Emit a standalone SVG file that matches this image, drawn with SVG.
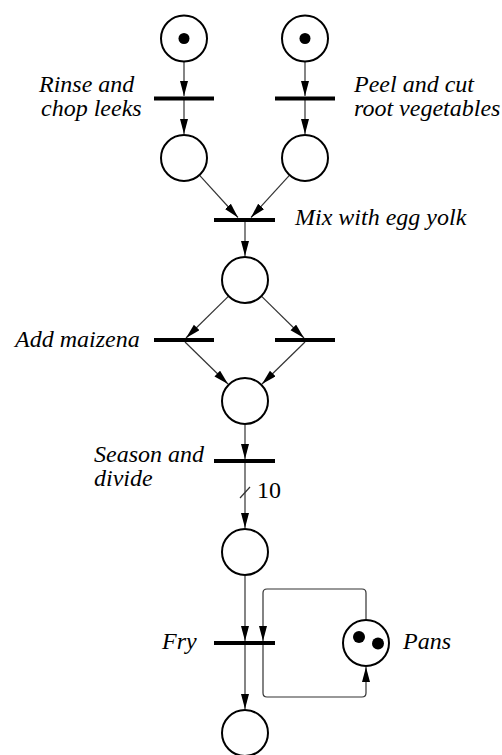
<svg xmlns="http://www.w3.org/2000/svg" width="502" height="755" viewBox="0 0 502 755">
  <style>
    .place { fill: #fff; stroke: #000; stroke-width: 2; }
    .token { fill: #000; }
    .bar { stroke: #000; stroke-width: 4; }
    .arc { fill: none; stroke: #333; stroke-width: 1.2; }
    .lbl { font-family: 'Liberation Serif', 'Times New Roman', serif; font-style: italic; font-size: 24px; fill: #000; }
    .num { font-family: 'Liberation Serif', 'Times New Roman', serif; font-size: 24px; fill: #000; }
  </style>
  <defs>
    <marker id="ah" markerUnits="userSpaceOnUse" markerWidth="16" markerHeight="9" refX="15" refY="4" orient="auto">
      <path d="M0,0 L15,4 L0,8 z" fill="#000"/>
    </marker>
  </defs>

  <g id="connectors">
    <line class="arc" x1="184" y1="62" x2="184" y2="96" marker-end="url(#ah)"/>
    <line class="arc" x1="305" y1="62" x2="305" y2="96" marker-end="url(#ah)"/>
    <line class="arc" x1="184" y1="100" x2="184" y2="134" marker-end="url(#ah)"/>
    <line class="arc" x1="305" y1="100" x2="305" y2="134" marker-end="url(#ah)"/>
    <line class="arc" x1="199.4" y1="175.1" x2="238" y2="217.5" marker-end="url(#ah)"/>
    <line class="arc" x1="289.6" y1="175.1" x2="251" y2="217.5" marker-end="url(#ah)"/>
    <line class="arc" x1="245" y1="222" x2="245" y2="256" marker-end="url(#ah)"/>
    <line class="arc" x1="228.6" y1="296.1" x2="186" y2="338" marker-end="url(#ah)"/>
    <line class="arc" x1="261.4" y1="296.1" x2="304" y2="338" marker-end="url(#ah)"/>
    <line class="arc" x1="185" y1="342" x2="228" y2="384" marker-end="url(#ah)"/>
    <line class="arc" x1="305" y1="342" x2="262" y2="384" marker-end="url(#ah)"/>
    <line class="arc" x1="245" y1="425" x2="245" y2="459" marker-end="url(#ah)"/>
    <line class="arc" x1="245" y1="463" x2="245" y2="528" marker-end="url(#ah)"/>
    <line class="arc" x1="240" y1="498" x2="250" y2="487"/>
    <line class="arc" x1="245" y1="576" x2="245" y2="641" marker-end="url(#ah)"/>
    <line class="arc" x1="245" y1="645" x2="245" y2="709" marker-end="url(#ah)"/>
    <path class="arc" d="M366,619 V593 Q366,589 362,589 H267 Q263,589 263,593 V641" marker-end="url(#ah)"/>
    <path class="arc" d="M263,645 V693 Q263,697 267,697 H362 Q366,697 366,693 V667" marker-end="url(#ah)"/>
    <text class="num" x="257" y="498">10</text>
  </g>

  <g id="p-start-leeks">
    <circle class="place" cx="184" cy="38.5" r="23"/>
    <circle class="token" cx="184" cy="38.5" r="5.5"/>
  </g>
  <g id="p-start-roots">
    <circle class="place" cx="305" cy="38.5" r="23"/>
    <circle class="token" cx="305" cy="38.5" r="5.5"/>
  </g>
  <g id="t-rinse">
    <line class="bar" x1="154" y1="98.5" x2="214" y2="98.5"/>
    <text class="lbl" x="39" y="92">Rinse and</text>
    <text class="lbl" x="41" y="116">chop leeks</text>
  </g>
  <g id="t-peel">
    <line class="bar" x1="275" y1="98.5" x2="335" y2="98.5"/>
    <text class="lbl" x="354" y="92">Peel and cut</text>
    <text class="lbl" x="354" y="116">root vegetables</text>
  </g>
  <g id="p-leeks">
    <circle class="place" cx="184" cy="158" r="23"/>
  </g>
  <g id="p-roots">
    <circle class="place" cx="305" cy="158" r="23"/>
  </g>
  <g id="t-mix">
    <line class="bar" x1="214" y1="220" x2="275" y2="220"/>
    <text class="lbl" x="295" y="225">Mix with egg yolk</text>
  </g>
  <g id="p-mixed">
    <circle class="place" cx="245" cy="280" r="23"/>
  </g>
  <g id="t-maizena-left">
    <line class="bar" x1="154" y1="340" x2="214" y2="340"/>
    <text class="lbl" x="15" y="347">Add maizena</text>
  </g>
  <g id="t-maizena-right">
    <line class="bar" x1="275" y1="340" x2="335" y2="340"/>
  </g>
  <g id="p-batter">
    <circle class="place" cx="245" cy="401" r="23"/>
  </g>
  <g id="t-season">
    <line class="bar" x1="214" y1="461" x2="275" y2="461"/>
    <text class="lbl" x="94" y="462">Season and</text>
    <text class="lbl" x="94" y="486">divide</text>
  </g>
  <g id="p-portions">
    <circle class="place" cx="245" cy="552" r="23"/>
  </g>
  <g id="t-fry">
    <line class="bar" x1="214" y1="643" x2="275" y2="643"/>
    <text class="lbl" x="162" y="649">Fry</text>
  </g>
  <g id="p-pans">
    <circle class="place" cx="366" cy="643" r="23"/>
    <circle class="token" cx="359" cy="637" r="6"/>
    <circle class="token" cx="378" cy="643.5" r="6"/>
    <text class="lbl" x="403" y="649">Pans</text>
  </g>
  <g id="p-done">
    <circle class="place" cx="245" cy="733" r="23"/>
  </g>
</svg>
